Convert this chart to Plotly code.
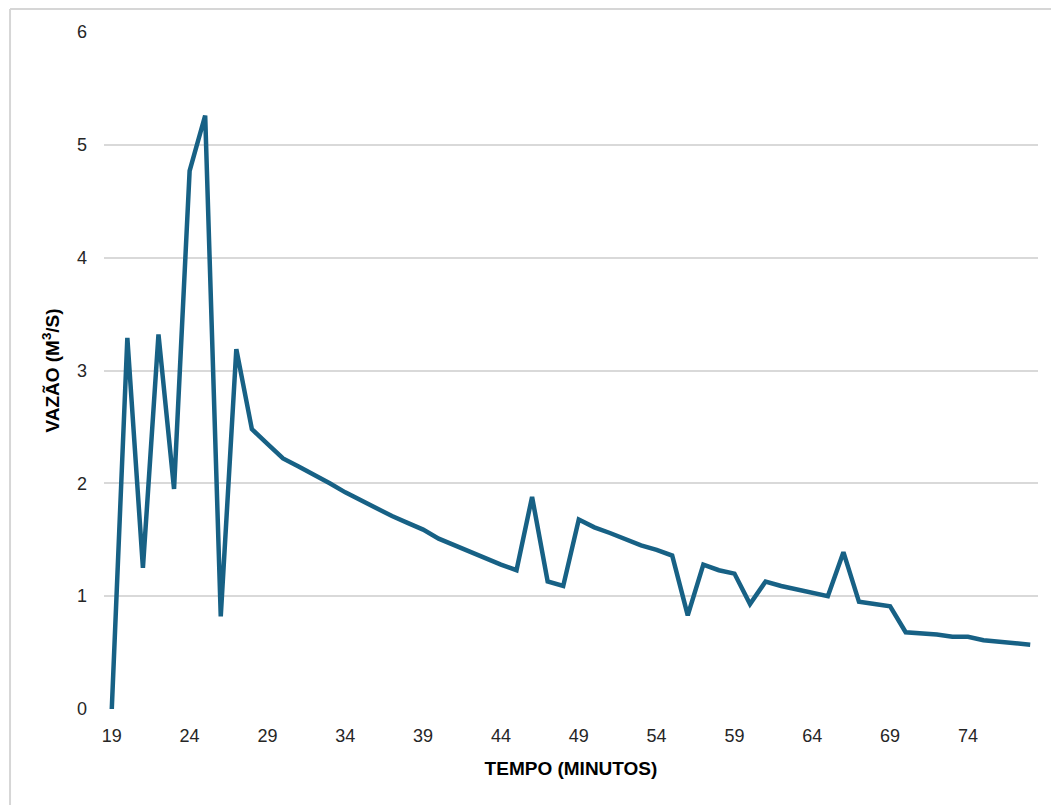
import plotly.graph_objects as go

minutes = list(range(19, 79))
flow = [0.00, 3.29, 1.25, 3.32, 1.95, 4.77, 5.26, 0.82, 3.19, 2.48,
        2.35, 2.22, 2.15, 2.08, 2.00, 1.92, 1.85, 1.77, 1.71, 1.65,
        1.59, 1.51, 1.45, 1.39, 1.34, 1.28, 1.23, 1.88, 1.13, 1.09,
        1.68, 1.61, 1.56, 1.50, 1.45, 1.41, 1.36, 0.83, 1.28, 1.23,
        1.20, 0.93, 1.13, 1.09, 1.06, 1.03, 1.00, 1.39, 0.95, 0.93,
        0.91, 0.68, 0.67, 0.66, 0.64, 0.64, 0.61, 0.60, 0.59, 0.57]
x_ticks = list(range(19, 78, 5))
y_ticks = [0, 1, 2, 3, 4, 5, 6]

fig = go.Figure()
fig.add_trace(go.Scatter(x=minutes, y=flow, mode="lines",
                         line=dict(color="#176185", width=4.5), showlegend=False))

font_family = "Liberation Sans, Arial, sans-serif"
fig.update_layout(
    width=1059, height=805,
    margin=dict(l=96, r=29, t=24, b=104),
    paper_bgcolor="white", plot_bgcolor="white",
    font=dict(family=font_family, size=18, color="#262626"),
    xaxis=dict(range=[18.5, 78.5], tickvals=x_ticks, showgrid=False, zeroline=False,
               showline=False, ticks="", ticklen=0, ticklabelstandoff=14,
               tickfont=dict(size=18, color="#262626"),
               title=dict(text="<b>TEMPO (MINUTOS)</b>", standoff=16,
                          font=dict(size=19, color="#000000"))),
    yaxis=dict(range=[0, 6], tickvals=y_ticks, showgrid=True, gridcolor="#d9d9d9",
               gridwidth=1.5, zeroline=False, showline=False, ticks="",
               ticklabelstandoff=16,
               tickfont=dict(size=18, color="#262626"),
               title=dict(text="<b>VAZÃO (M<sup>3</sup>/S)</b>", standoff=12,
                          font=dict(size=19, color="#000000"))),
    shapes=[dict(type="line", xref="paper", yref="paper",
                 x0=-0.1006, x1=1.05, y0=1.0338, y1=1.0338,
                 line=dict(color="#d6d6d6", width=2), layer="below"),
            dict(type="line", xref="paper", yref="paper",
                 x0=-0.1006, x1=-0.1006, y0=-0.2, y1=1.0338,
                 line=dict(color="#d6d6d6", width=2), layer="below")],
)
fig.write_html("out.html")
